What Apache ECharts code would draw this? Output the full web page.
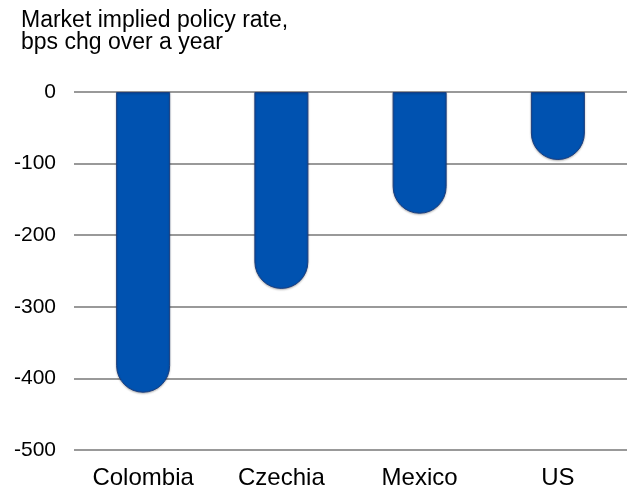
<!DOCTYPE html>
<html><head><meta charset="utf-8">
<script src="https://cdn.jsdelivr.net/npm/echarts@6/dist/echarts.min.js"></script>
<style>html,body{margin:0;padding:0;background:#fff}#c{width:631px;height:491px}</style>
</head><body><div id="c"></div>
<script>
const categories = ['Colombia', 'Czechia', 'Mexico', 'US'];
const values = [-420, -275, -170, -95];
const titleText = 'Market implied policy rate,\nbps chg over a year';

const chart = echarts.init(document.getElementById('c'), null, {renderer: 'canvas'});
chart.setOption({
  animation: false,
  backgroundColor: '#fff',
  textStyle: {fontFamily: 'Liberation Sans, Arial, sans-serif'},
  title: {
    text: titleText, left: 21, top: 10, padding: 0,
    textStyle: {fontSize: 23, fontWeight: 'normal', color: '#000', lineHeight: 22, fontFamily: 'Liberation Sans, Arial, sans-serif'}
  },
  grid: {left: 74, right: 4, top: 92, bottom: 41, containLabel: false},
  xAxis: {
    type: 'category', data: categories, position: 'bottom',
    axisLine: {show: false}, axisTick: {show: false},
    axisLabel: {fontSize: 24, color: '#000', margin: 16}
  },
  yAxis: {
    type: 'value', min: -500, max: 0, interval: 100,
    axisLine: {show: false}, axisTick: {show: false},
    axisLabel: {fontSize: 21, color: '#000', margin: 18},
    splitLine: {lineStyle: {color: '#999', width: 2}}
  },
  series: [{
    type: 'bar', data: values, barWidth: 54,
    itemStyle: {
      color: '#0052b0', borderColor: '#1d3f7f', borderWidth: 1,
      borderRadius: [0, 0, 27, 27],
      shadowColor: 'rgba(0,0,0,0.25)', shadowBlur: 2, shadowOffsetY: 1
    }
  }]
});
</script></body></html>
